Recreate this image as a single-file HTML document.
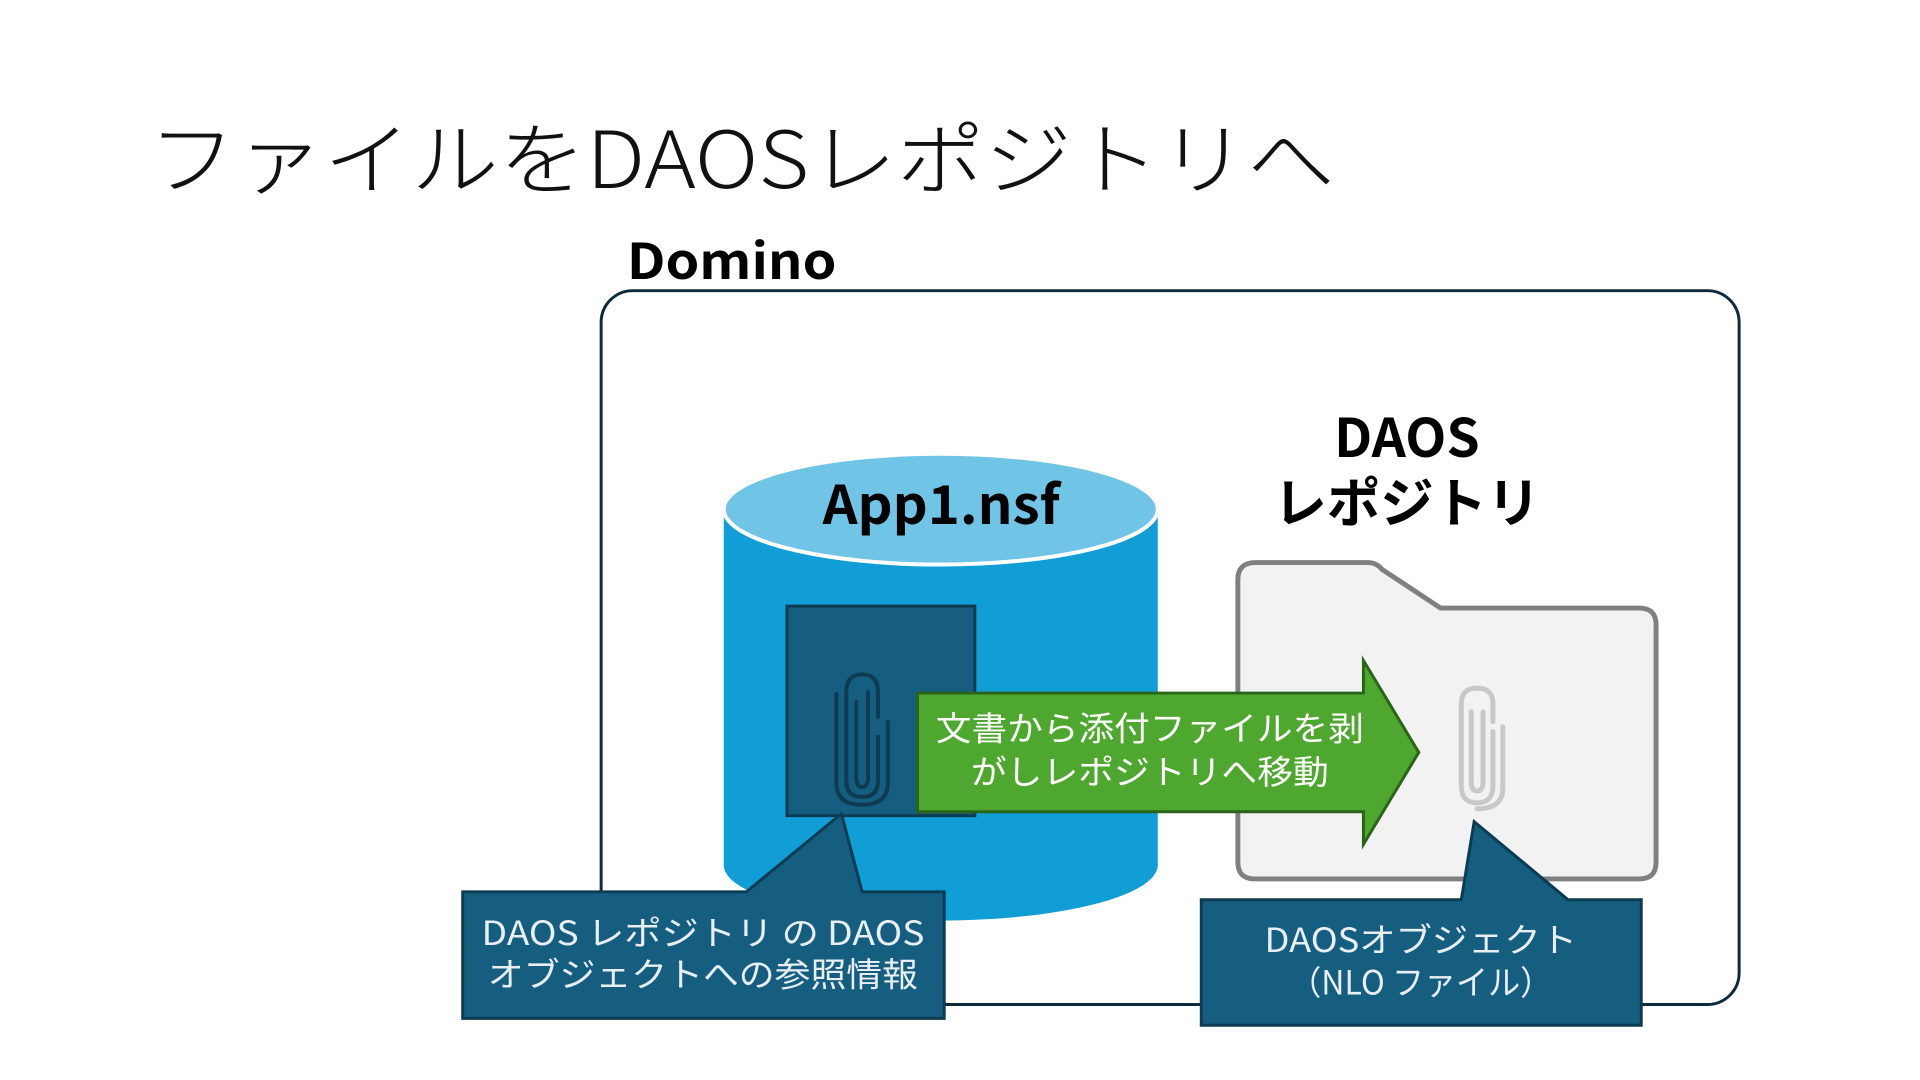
<!DOCTYPE html>
<html><head><meta charset="utf-8"><style>
html,body{margin:0;padding:0;background:#fff;width:1920px;height:1080px;overflow:hidden}
svg{display:block}
text{font-family:"Liberation Sans","Noto Sans CJK JP",sans-serif}
</style></head><body>
<svg width="1920" height="1080" viewBox="0 0 1920 1080" xmlns="http://www.w3.org/2000/svg">
<g transform="scale(0.9887)">
<text x="150" y="190" font-size="80" font-weight="300" fill="#111" style="font-family:'Noto Sans CJK JP',sans-serif" textLength="1200" lengthAdjust="spacingAndGlyphs">ファイルをDAOSレポジトリへ</text>
<text x="634" y="282" font-size="50" font-weight="bold" fill="#000" style="font-family:'Noto Sans CJK JP',sans-serif" textLength="212" lengthAdjust="spacingAndGlyphs">Domino</text>
<rect x="608" y="294" width="1151" height="722" rx="32" fill="#fff" stroke="#0e2a3a" stroke-width="3"/>
<path d="M732 515 L732 875 A219.5 56 0 0 0 1171 875 L1171 515 Z" fill="#119ed6"/>
<ellipse cx="951.5" cy="515" rx="219.5" ry="56" fill="#70c4e5" stroke="#fff" stroke-width="4"/>
<text x="952" y="530" font-size="54" font-weight="bold" text-anchor="middle" fill="#000" style="font-family:'Noto Sans CJK JP',sans-serif" textLength="240" lengthAdjust="spacingAndGlyphs">App1.nsf</text>
<text x="1423" y="462" font-size="54" font-weight="bold" text-anchor="middle" fill="#000" style="font-family:'Noto Sans CJK JP',sans-serif">DAOS</text>
<text x="1423" y="528" font-size="54" font-weight="bold" text-anchor="middle" fill="#000" style="font-family:'Noto Sans CJK JP',sans-serif">レポジトリ</text>
<path d="M1270 569 L1384 569 Q1392 569 1398 576 L1457 615 L1658 615 Q1675 615 1675 632 L1675 872 Q1675 889 1658 889 L1269 889 Q1252 889 1252 872 L1252 586 Q1252 569 1270 569 Z" fill="#f2f2f2" stroke="#808080" stroke-width="5"/>
<rect x="796" y="613" width="190" height="212" fill="#155e80" stroke="#0d3b52" stroke-width="3"/>
<g fill="none" stroke="#0d3b52" stroke-width="4" stroke-linecap="round">
<path d="M888 745 L888 790 Q888 806 872 806 Q856 806 856 790 L856 700 Q856 682 872 682 Q888 682 888 700 L888 725"/>
<path d="M878 700 L878 786 Q878 796 872 796 Q866 796 866 786 L866 710"/>
<path d="M898 730 L898 792 Q898 814 872 814 Q846 814 846 792 L846 702"/>
</g>
<path d="M928 701 L1379 701 L1379 668 L1435 761 L1379 854 L1379 821 L928 821 Z" fill="#4ea72e" stroke="#2a6418" stroke-width="3"/>
<text x="1163" y="749" font-size="34" text-anchor="middle" fill="#fff" style="font-family:'Noto Sans CJK JP',sans-serif" textLength="433" lengthAdjust="spacingAndGlyphs">文書から添付ファイルを剥</text>
<text x="1163" y="793" font-size="34" text-anchor="middle" fill="#fff" style="font-family:'Noto Sans CJK JP',sans-serif" textLength="362" lengthAdjust="spacingAndGlyphs">がしレポジトリへ移動</text>
<g fill="none" stroke="#c8c8c8" stroke-width="5" stroke-linecap="round">
<path d="M1510 740 L1510 795 Q1510 812 1494 812 Q1478 812 1478 795 L1478 712 Q1478 696 1494 696 Q1510 696 1510 712 L1510 730"/>
<path d="M1500 720 L1500 790 Q1500 800 1494 800 Q1488 800 1488 790 L1488 720"/>
<path d="M1520 735 L1520 797 Q1520 818 1494 818"/>
</g>
<path d="M468 902 L755 902 L851 823 L872 902 L955 902 L955 1030 L468 1030 Z" fill="#155e80" stroke="#0d3b52" stroke-width="3"/>
<text x="711" y="956" font-size="34" text-anchor="middle" fill="#e8eef2" style="font-family:'Noto Sans CJK JP',sans-serif" textLength="448" lengthAdjust="spacingAndGlyphs">DAOS レポジトリ の DAOS</text>
<text x="711" y="998" font-size="34" text-anchor="middle" fill="#e8eef2" style="font-family:'Noto Sans CJK JP',sans-serif" textLength="435" lengthAdjust="spacingAndGlyphs">オブジェクトへの参照情報</text>
<path d="M1215 910 L1478 910 L1491 831 L1586 910 L1660 910 L1660 1037 L1215 1037 Z" fill="#155e80" stroke="#0d3b52" stroke-width="3"/>
<text x="1437" y="963" font-size="34" text-anchor="middle" fill="#e8eef2" style="font-family:'Noto Sans CJK JP',sans-serif" textLength="316" lengthAdjust="spacingAndGlyphs">DAOSオブジェクト</text>
<text x="1437" y="1006" font-size="34" text-anchor="middle" fill="#e8eef2" style="font-family:'Noto Sans CJK JP',sans-serif" textLength="266" lengthAdjust="spacingAndGlyphs">（NLO ファイル）</text>
</g>
</svg>
</body></html>
